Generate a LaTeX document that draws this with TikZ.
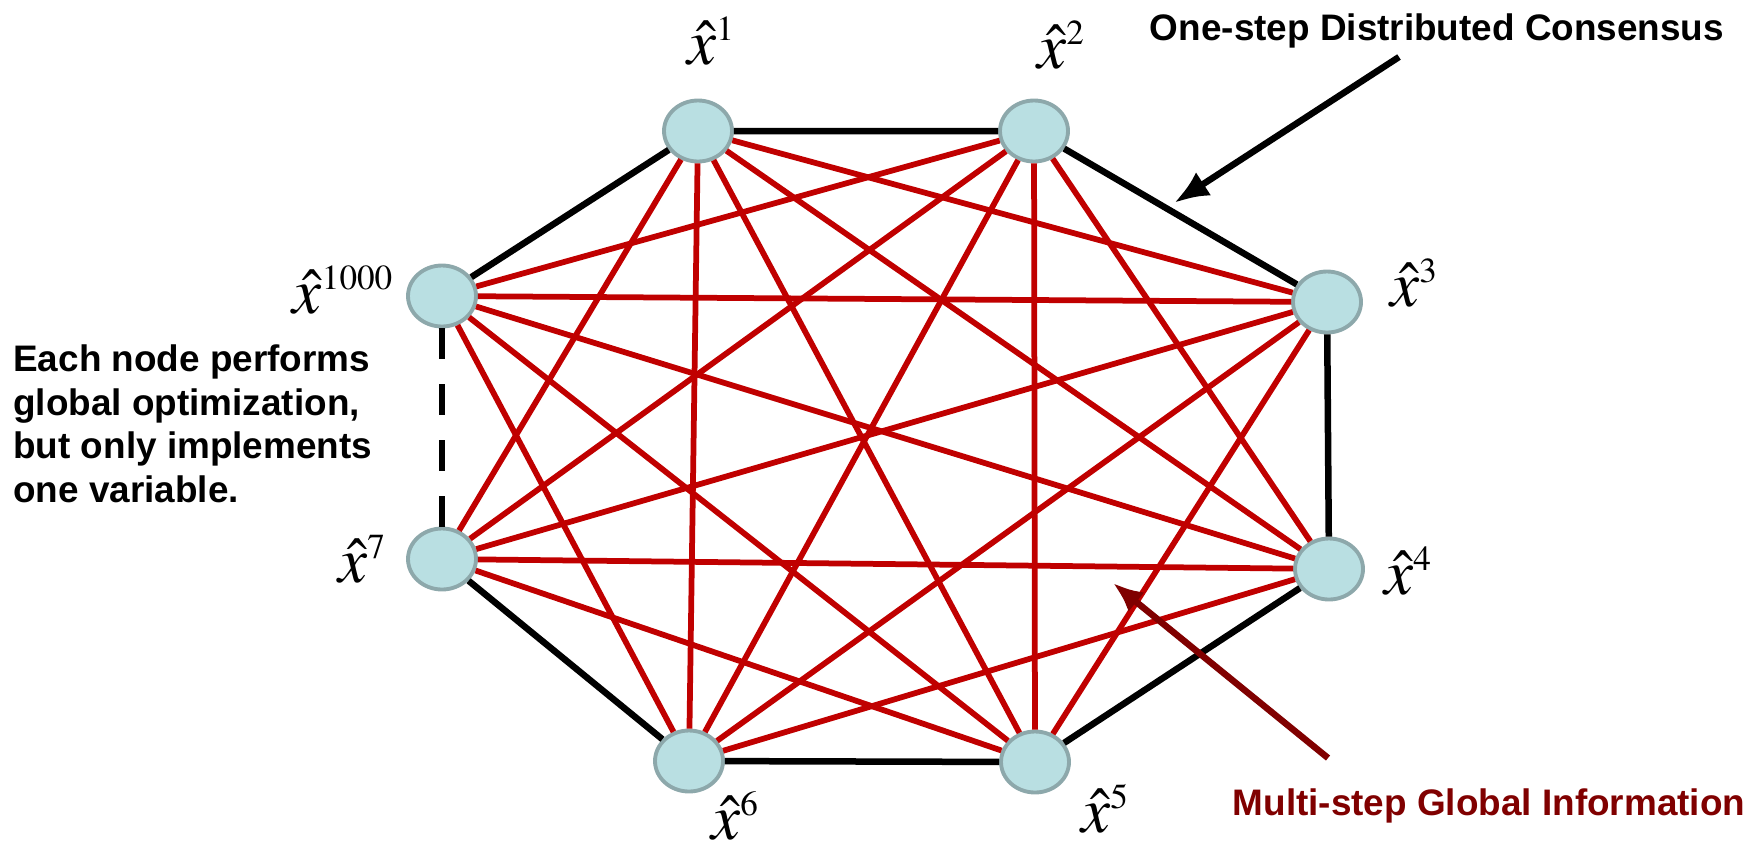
\documentclass[tikz,border=0pt]{standalone}
\usepackage{mathptmx}
\usepackage[no-math]{fontspec}
\setmainfont{Liberation Sans}
\DeclareMathSizes{37}{37}{20}{14}
\usetikzlibrary{arrows.meta, shapes.geometric}
\definecolor{nodefill}{HTML}{B9DFE2}
\definecolor{nodeedge}{HTML}{8DA8AB}
\definecolor{linkred}{HTML}{C00000}
\definecolor{infored}{HTML}{800000}

\begin{document}
\begin{tikzpicture}[
  x=0.2mm, y=-0.2mm, font=\bfseries\fontsize{21}{25}\selectfont,
  agent/.style={ellipse, draw=nodeedge, fill=nodefill, line width=2.2pt, minimum width=13.6mm, minimum height=12.2mm, inner sep=0pt},
  lbl/.style={inner sep=0pt, font=\fontsize{37}{40}\selectfont},
  ring/.style={line width=1.3mm, black},
  link/.style={line width=1.15mm, linkred}
]
  \useasboundingbox (0,0) rectangle (1752,845);
  % agents
  \node[agent] (n1) at (698,131) {};
  \node[agent] (n2) at (1034,131) {};
  \node[agent] (n3) at (1327,302) {};
  \node[agent] (n4) at (1329,569) {};
  \node[agent] (n5) at (1035,762) {};
  \node[agent] (n6) at (689,761) {};
  \node[agent] (n7) at (442,559) {};
  \node[agent] (n1000) at (442,296) {};
  \node[lbl] (l1) at (711,41) {$\hat{x}^{1}$};
  \node[lbl] (l2) at (1061,45) {$\hat{x}^{2}$};
  \node[lbl] (l3) at (1414,283) {$\hat{x}^{3}$};
  \node[lbl] (l4) at (1408,571) {$\hat{x}^{4}$};
  \node[lbl] (l5) at (1105,809) {$\hat{x}^{5}$};
  \node[lbl] (l6) at (735,816) {$\hat{x}^{6}$};
  \node[lbl] (l7) at (362,559) {$\hat{x}^{7}$};
  \node[lbl] (l1000) at (343,290) {$\hat{x}^{1000}$};
  % one-step ring
  \draw[ring] (n1) -- (n2) -- (n3) -- (n4) -- (n5) -- (n6) -- (n7);
  \draw[ring] (n1000) -- (n1);
  \draw[ring, dash pattern=on 6.2mm off 5mm] (n7) -- (n1000);
  % multi-step links
  \foreach \a/\b in {n1/n3, n1/n4, n1/n5, n1/n6, n1/n7, n2/n4, n2/n5, n2/n6, n2/n7, n2/n1000,
    n3/n5, n3/n6, n3/n7, n3/n1000, n4/n6, n4/n7, n4/n1000, n5/n7, n5/n1000, n6/n1000}
    \draw[link] (\a) -- (\b);
  % notes
  \node[anchor=base] (cons) at (1437,40) {One-step Distributed Consensus};
  \node[anchor=base, text=infored] (info) at (1489,815) {Multi-step Global Information};
  \node[anchor=north west, align=left, inner sep=0pt] (note) at (13,344) {Each node performs\\ global optimization,\\ but only implements\\ one variable.};
  \coordinate (consTail) at (1399,57);
  \coordinate (consTip) at (1174,203);
  \coordinate (infoTail) at (1328,758);
  \coordinate (infoTip) at (1113,583);
  \draw[line width=1.3mm, -{Latex[length=7mm, width=5.5mm]}] (consTail) -- (consTip);
  \draw[line width=1.3mm, infored, -{Latex[length=6mm, width=5mm]}] (infoTail) -- (infoTip);
\end{tikzpicture}
\end{document}
